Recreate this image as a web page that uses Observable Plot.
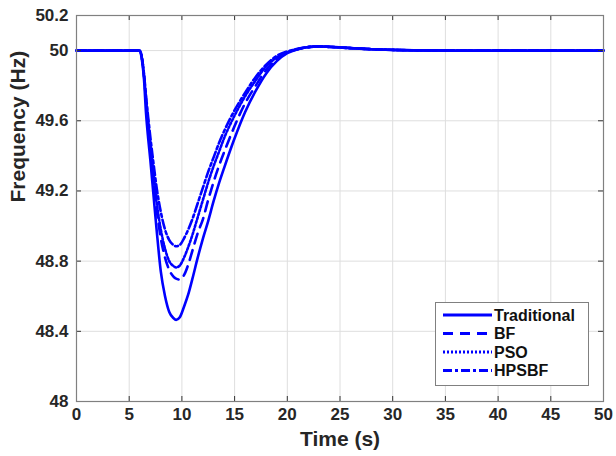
<!DOCTYPE html>
<html><head><meta charset="utf-8">
<script src="https://cdn.jsdelivr.net/npm/d3@7"></script>
<script src="https://cdn.jsdelivr.net/npm/@observablehq/plot@0.6"></script>
<style>
body{margin:0;background:#fff;}
#wrap{position:relative;width:616px;height:456px;font-family:"Liberation Sans",Arial,sans-serif;}
#legend{position:absolute;left:435px;top:302px;width:154px;height:84px;border:1px solid #808080;background:#fff;box-sizing:border-box;}
</style></head><body><div id="wrap"></div>
<script>
// time (s)
const time = [0, 6, 6.2, 6.4, 6.6, 6.8, 7.0, 7.3, 7.6, 8.0, 8.4, 8.8, 9.2, 9.45, 9.8, 10.2, 10.6, 11.0, 11.5, 12.0, 12.5, 13.0, 13.5, 14.0, 15.0, 16.0, 17.0, 18.0, 19.0, 20.0, 21.0, 22.0, 23.0, 24.0, 26.0, 28.0, 30.0, 33.0, 36.0, 40.0, 50.0];
// frequency (Hz)
const traditional = [50, 50, 49.95, 49.84, 49.64, 49.5, 49.38, 49.18, 48.98, 48.74, 48.6, 48.51, 48.475, 48.465, 48.48, 48.54, 48.61, 48.7, 48.82, 48.93, 49.03, 49.14, 49.24, 49.33, 49.5, 49.65, 49.77, 49.87, 49.94, 49.985, 50.008, 50.02, 50.024, 50.022, 50.015, 50.008, 50.004, 50.001, 50, 50, 50];
const bf = [50, 50, 49.96, 49.86, 49.71, 49.57, 49.45, 49.27, 49.1, 48.93, 48.82, 48.75, 48.712, 48.7, 48.695, 48.72, 48.78, 48.86, 48.96, 49.04, 49.15, 49.25, 49.34, 49.42, 49.57, 49.7, 49.8, 49.89, 49.95, 49.99, 50.008, 50.02, 50.023, 50.021, 50.014, 50.008, 50.004, 50.001, 50, 50, 50];
const pso = [50, 50, 49.96, 49.86, 49.72, 49.59, 49.47, 49.3, 49.14, 48.98, 48.87, 48.8, 48.772, 48.764, 48.775, 48.82, 48.88, 48.95, 49.05, 49.15, 49.25, 49.34, 49.42, 49.5, 49.63, 49.74, 49.83, 49.91, 49.96, 49.99, 50.009, 50.02, 50.023, 50.021, 50.014, 50.008, 50.004, 50.001, 50, 50, 50];
const hpsbf = [50, 50, 49.96, 49.87, 49.74, 49.62, 49.51, 49.36, 49.22, 49.08, 48.98, 48.92, 48.892, 48.885, 48.892, 48.93, 48.98, 49.04, 49.13, 49.22, 49.31, 49.39, 49.47, 49.54, 49.66, 49.76, 49.85, 49.92, 49.97, 49.995, 50.01, 50.02, 50.023, 50.021, 50.014, 50.008, 50.004, 50.001, 50, 50, 50];

const seriesNames = ["Traditional", "BF", "PSO", "HPSBF"];
const seriesValues = [traditional, bf, pso, hpsbf];
const dashes = [null, "10,7", "2,2", "9,3,3,3"];

const xTicks = [0, 5, 10, 15, 20, 25, 30, 35, 40, 45, 50];
const yTicks = [48, 48.4, 48.8, 49.2, 49.6, 50, 50.2];
const xDomain = [0, 50];
const yDomain = [48, 50.2];

const blue = "#0000ff";
const tickLenY = (yDomain[1] - yDomain[0]) * 5 / 386;
const tickLenX = (xDomain[1] - xDomain[0]) * 5 / 527;

const lineMarks = seriesNames.map((name, k) => {
  const rows = time.map((t, i) => ({t, f: seriesValues[k][i], s: name}));
  return Plot.line(rows, {x: "t", y: "f", stroke: blue, strokeWidth: 2.6,
    strokeDasharray: dashes[k] || undefined, curve: "monotone-x"});
}).reverse();

const chart = Plot.plot({
  width: 616, height: 456,
  marginLeft: 76, marginRight: 13, marginTop: 15, marginBottom: 55,
  style: {fontFamily: "'Liberation Sans', Arial, sans-serif", fontWeight: "bold", color: "#262626", background: "#fff"},
  x: {domain: xDomain},
  y: {domain: yDomain},
  marks: [
    Plot.gridX(xTicks, {stroke: "#dedede", strokeOpacity: 1}),
    Plot.gridY(yTicks, {stroke: "#dedede", strokeOpacity: 1}),
    ...lineMarks,
    Plot.ruleX(xTicks, {x: d => d, y1: yDomain[0], y2: yDomain[0] + tickLenY, stroke: "#333"}),
    Plot.ruleX(xTicks, {x: d => d, y1: yDomain[1], y2: yDomain[1] - tickLenY, stroke: "#333"}),
    Plot.ruleY(yTicks, {y: d => d, x1: xDomain[0], x2: xDomain[0] + tickLenX, stroke: "#333"}),
    Plot.ruleY(yTicks, {y: d => d, x1: xDomain[1], x2: xDomain[1] - tickLenX, stroke: "#333"}),
    Plot.frame({stroke: "#808080", strokeWidth: 1.2}),
    Plot.axisX(xTicks, {tickSize: 0, tickPadding: 6, fontSize: 17, label: null}),
    Plot.axisY(yTicks, {tickSize: 0, tickPadding: 8, fontSize: 17, label: null, tickFormat: d => String(d)}),
    Plot.text(["Time (s)"], {text: d => d, frameAnchor: "bottom", dy: 44, fontSize: 21, fontWeight: "bold", fill: "#262626"}),
    Plot.text(["Frequency (Hz)"], {text: d => d, frameAnchor: "left", dx: -58, dy: -6, rotate: -90, fontSize: 21, fontWeight: "bold", fill: "#262626"})
  ]
});

const wrap = document.getElementById("wrap");
wrap.appendChild(chart);

// legend overlay
const legend = document.createElement("div");
legend.id = "legend";
wrap.appendChild(legend);
const lsvg = d3.select(legend).append("svg").attr("width", 152).attr("height", 82)
  .style("position", "absolute").style("left", "0px").style("top", "0px");
const rowY = [12, 30.5, 49, 67.5];
seriesNames.forEach((name, k) => {
  lsvg.append("line").attr("x1", 7).attr("x2", 56).attr("y1", rowY[k]).attr("y2", rowY[k])
    .attr("stroke", blue).attr("stroke-width", 3)
    .attr("stroke-dasharray", dashes[k]);
  lsvg.append("text").attr("x", 58).attr("y", rowY[k]).attr("dy", "0.36em")
    .attr("font-family", "'Liberation Sans', Arial, sans-serif").attr("font-weight", "bold")
    .attr("font-size", 16).attr("fill", "#111").text(name);
});
</script>
</body></html>
